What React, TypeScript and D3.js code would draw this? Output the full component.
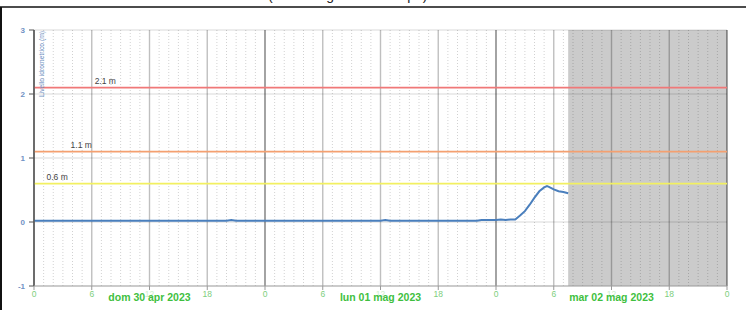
import React from 'react';
import * as d3 from 'd3';

// hours from 30 apr 2023 00:00 and measured level (m)
const hours = [0, 6, 12, 18, 20, 20.5, 21, 24, 30, 36, 36.5, 37, 42, 46, 46.5, 48, 48.5, 49, 49.5, 50, 50.5, 51, 51.5, 52, 52.5, 53, 53.3, 53.5, 54, 54.5, 55, 55.5];
const levels = [0.02, 0.02, 0.02, 0.02, 0.02, 0.03, 0.02, 0.02, 0.02, 0.02, 0.03, 0.02, 0.02, 0.02, 0.03, 0.03, 0.04, 0.03, 0.04, 0.04, 0.1, 0.17, 0.27, 0.38, 0.48, 0.54, 0.56, 0.55, 0.51, 0.48, 0.47, 0.45];

const thresholds = [2.1, 1.1, 0.6];
const thresholdLabels = ['2.1 m', '1.1 m', '0.6 m'];
const thresholdColors = ['#f07878', '#f4a070', '#f2f060'];

const dayLabels = ['dom 30 apr 2023', 'lun 01 mag 2023', 'mar 02 mag 2023'];
const yTicks = [3, 2, 1, 0, -1];
const forecastStartHour = 55.5;

const start = new Date(2023, 3, 30, 0, 0);
const end = new Date(2023, 4, 3, 0, 0);
const at = (h: number) => new Date(start.getTime() + h * 3600 * 1000);

const App = () => {
  const width = 746;
  const height = 310;
  const left = 34;
  const right = 727;
  const top = 30;
  const bottom = 286;

  const x = d3.scaleTime().domain([start, end]).range([left, right]);
  const y = d3.scaleLinear().domain([-1, 3]).range([bottom, top]);

  const data = hours.map((h, i) => ({ date: at(h), value: levels[i] }));
  const line = d3
    .line<{ date: Date; value: number }>()
    .x((d) => x(d.date))
    .y((d) => y(d.value));

  const hourTicks = x.ticks(d3.timeHour.every(1)!);
  const font = 'Arial, "Liberation Sans", sans-serif';

  return (
    <svg width={width} height={height} style={{ position: 'absolute', left: 0, top: 0 }} fontFamily={font}>
      <rect x={0} y={0} width={width} height={height} fill="#fff" />
      {/* title, cut off by the top of the frame */}
      <text x={268} y={0} fontSize={14} fill="#222">
        (livello al giorno in tempo)
      </text>
      <line x1={0} x2={width} y1={7} y2={7} stroke="#111" strokeWidth={1.6} />
      <line x1={1} x2={1} y1={7} y2={height} stroke="#111" strokeWidth={2} />

      {/* forecast / no-data area */}
      <rect x={x(at(forecastStartHour))} y={top} width={right - x(at(forecastStartHour))} height={bottom - top} fill="#cbcbcb" />

      {/* horizontal grid */}
      {yTicks.map((t) => (
        <line key={'h' + t} x1={left} x2={right} y1={y(t)} y2={y(t)} stroke="rgba(0,0,0,0.1)" strokeWidth={1.5} />
      ))}

      {/* vertical grid */}
      {hourTicks.map((d, i) => {
        const h = d.getHours();
        const px = x(d);
        if (h === 0) {
          return <line key={'v' + i} x1={px} x2={px} y1={top} y2={bottom} stroke="rgba(0,0,0,0.45)" strokeWidth={1.6} />;
        }
        if (h % 6 === 0) {
          return <line key={'v' + i} x1={px} x2={px} y1={top} y2={bottom} stroke="rgba(0,0,0,0.25)" strokeWidth={1.4} />;
        }
        return <line key={'v' + i} x1={px} x2={px} y1={top} y2={bottom} stroke="rgba(0,0,0,0.18)" strokeWidth={1} strokeDasharray="1,2" />;
      })}

      {/* thresholds */}
      {thresholds.map((t, i) => (
        <g key={'t' + i}>
          <line x1={left} x2={right} y1={y(t)} y2={y(t)} stroke={thresholdColors[i]} strokeWidth={1.6} />
          <text x={x(at(6.3 - i * 2.5))} y={y(t) - 4} fontSize={8.5} fill="#444">
            {thresholdLabels[i]}
          </text>
        </g>
      ))}

      {/* level series */}
      <path d={line(data) ?? ''} fill="none" stroke="#4a7fbd" strokeWidth={2} />

      {/* axes */}
      <line x1={left} x2={left} y1={top} y2={bottom} stroke="#555" strokeWidth={1.4} />
      <line x1={left} x2={right} y1={bottom} y2={bottom} stroke="#aaa" strokeWidth={1.2} />
      {yTicks.map((t) => (
        <g key={'yt' + t}>
          <line x1={left - 5} x2={left} y1={y(t)} y2={y(t)} stroke="#555" strokeWidth={1} />
          <text x={left - 9} y={y(t) + 3} textAnchor="end" fontSize={8} fontWeight="bold" fill="#7092c4">
            {t}
          </text>
        </g>
      ))}
      <text
        transform={`translate(${left + 10}, ${top + 1}) rotate(-90)`}
        textAnchor="end"
        fontSize={7.5}
        textLength={66}
        lengthAdjust="spacingAndGlyphs"
        fill="#7092c4"
      >
        Livello idrometrico (m)
      </text>

      {hourTicks
        .filter((d) => d.getHours() % 6 === 0)
        .map((d, i) => (
          <g key={'xt' + i}>
            <line x1={x(d)} x2={x(d)} y1={bottom} y2={bottom + 4} stroke="#999" strokeWidth={1} />
            <text
              x={x(d)}
              y={bottom + 11}
              textAnchor="middle"
              fontSize={8.5}
              fill={d.getHours() === 12 ? '#cdeecd' : '#7dce7d'}
            >
              {d.getHours()}
            </text>
          </g>
        ))}
      {dayLabels.map((lbl, i) => (
        <text
          key={'d' + i}
          x={x(at(i * 24 + 12))}
          y={bottom + 15}
          textAnchor="middle"
          fontSize={10.5}
          fontWeight="bold"
          fill="#3fbf3f"
        >
          {lbl}
        </text>
      ))}
    </svg>
  );
};

export default App;
